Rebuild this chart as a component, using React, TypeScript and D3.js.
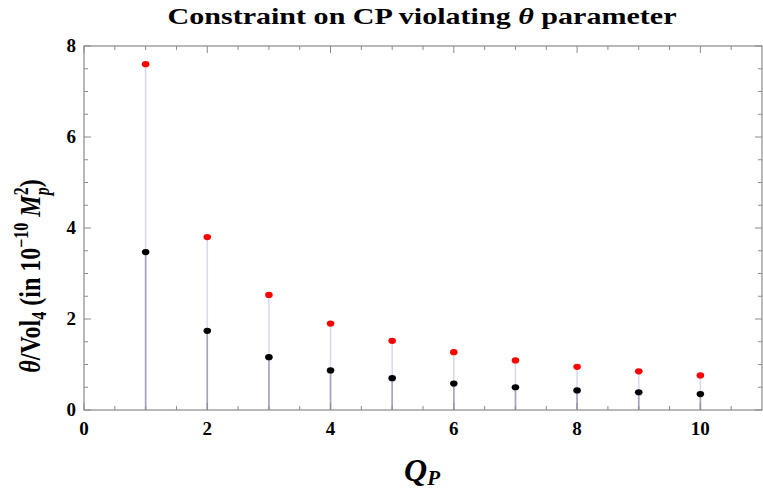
import React from 'react';
import * as d3 from 'd3';

// charge values Q_P and the two constraint series
const charges = [1, 2, 3, 4, 5, 6, 7, 8, 9, 10];
const upperBound = [7.6, 3.8, 2.53, 1.9, 1.52, 1.27, 1.09, 0.95, 0.85, 0.76];
const lowerBound = [3.47, 1.74, 1.16, 0.87, 0.7, 0.58, 0.5, 0.43, 0.39, 0.35];
const xTicks = [0, 2, 4, 6, 8, 10];
const yTicks = [0, 2, 4, 6, 8];

const W = 763;
const H = 492;
const margin = { top: 46, right: 1, bottom: 82, left: 84 };
const serif = '"Liberation Serif", "Times New Roman", serif';

const App = () => {
  const x = d3.scaleLinear().domain([0, 11]).range([margin.left, W - margin.right]);
  const y = d3.scaleLinear().domain([0, 8]).range([H - margin.bottom, margin.top]);

  const x0 = x(0);
  const x1 = x(11);
  const y0 = y(0);
  const y1 = y(8);

  const xMinor = d3.range(0.5, 11, 0.5).filter(v => v % 2 !== 0);
  const yMinor = d3.range(0.5, 8, 0.5).filter(v => v % 2 !== 0);

  const frame = '#8a8a8a';

  return (
    <svg width={W} height={H} style={{ position: 'fixed', left: 0, top: 0, background: '#fff' }}>
      {/* stems (filling to axis) */}
      {charges.map((c, i) => (
        <g key={'s' + c}>
          <line x1={x(c)} x2={x(c)} y1={y0} y2={y(upperBound[i])} stroke="#d9d9f0" strokeWidth={1.6} />
          <line x1={x(c)} x2={x(c)} y1={y0} y2={y(lowerBound[i])} stroke="#a4a4c6" strokeWidth={1.6} />
        </g>
      ))}

      {/* frame */}
      <rect x={x0} y={y1} width={x1 - x0} height={y0 - y1} fill="none" stroke={frame} strokeWidth={1.2} />

      {/* x ticks, bottom and top */}
      {xTicks.map(t => (
        <g key={'xt' + t}>
          <line x1={x(t)} x2={x(t)} y1={y0} y2={y0 - 7} stroke={frame} />
          <line x1={x(t)} x2={x(t)} y1={y1} y2={y1 + 7} stroke={frame} />
          <text x={x(t)} y={y0 + 25} textAnchor="middle" fontFamily={serif} fontWeight="bold" fontSize={19}>
            {t}
          </text>
        </g>
      ))}
      {xMinor.map(t => (
        <g key={'xm' + t}>
          <line x1={x(t)} x2={x(t)} y1={y0} y2={y0 - 4} stroke={frame} />
          <line x1={x(t)} x2={x(t)} y1={y1} y2={y1 + 4} stroke={frame} />
        </g>
      ))}

      {/* y ticks, left and right */}
      {yTicks.map(t => (
        <g key={'yt' + t}>
          <line x1={x0} x2={x0 + 7} y1={y(t)} y2={y(t)} stroke={frame} />
          <line x1={x1} x2={x1 - 7} y1={y(t)} y2={y(t)} stroke={frame} />
          <text x={x0 - 8} y={y(t) + 6} textAnchor="end" fontFamily={serif} fontWeight="bold" fontSize={19}>
            {t}
          </text>
        </g>
      ))}
      {yMinor.map(t => (
        <g key={'ym' + t}>
          <line x1={x0} x2={x0 + 4} y1={y(t)} y2={y(t)} stroke={frame} />
          <line x1={x1} x2={x1 - 4} y1={y(t)} y2={y(t)} stroke={frame} />
        </g>
      ))}

      {/* points */}
      {charges.map((c, i) => (
        <ellipse key={'u' + c} cx={x(c)} cy={y(upperBound[i])} rx={3.8} ry={3.1} fill="#ff0000" />
      ))}
      {charges.map((c, i) => (
        <ellipse key={'l' + c} cx={x(c)} cy={y(lowerBound[i])} rx={3.8} ry={3.1} fill="#000" />
      ))}

      {/* title */}
      <text
        x={422}
        y={24}
        textAnchor="middle"
        fontFamily={serif}
        fontWeight="bold"
        fontSize={24}
        textLength={509}
        lengthAdjust="spacingAndGlyphs"
      >
        Constraint on CP violating <tspan fontStyle="italic">θ</tspan> parameter
      </text>

      {/* y label */}
      <text
        transform={`translate(40, ${(y0 + y1) / 2 + 48}) scale(1.25, 1) rotate(-90)`}
        textAnchor="middle"
        fontFamily={serif}
        fontWeight="bold"
        fontSize={24}
      >
        <tspan fontStyle="italic">θ</tspan>/Vol<tspan fontSize={16} dy={5}>4</tspan>
        <tspan dy={-5}> (in 10</tspan>
        <tspan fontSize={16} dy={-10}>−10</tspan>
        <tspan dy={10}> </tspan>
        <tspan fontStyle="italic">M</tspan>
        <tspan fontSize={16} dy={-10}>2</tspan>
        <tspan fontSize={16} fontStyle="italic" dx={-8} dy={17}>p</tspan>
        <tspan dy={-7}>)</tspan>
      </text>

      {/* x label */}
      <text x={422} y={481} textAnchor="middle" fontFamily={serif} fontWeight="bold" fontStyle="italic" fontSize={32}>
        Q<tspan fontSize={21} dy={4}>P</tspan>
      </text>
    </svg>
  );
};

export default App;
